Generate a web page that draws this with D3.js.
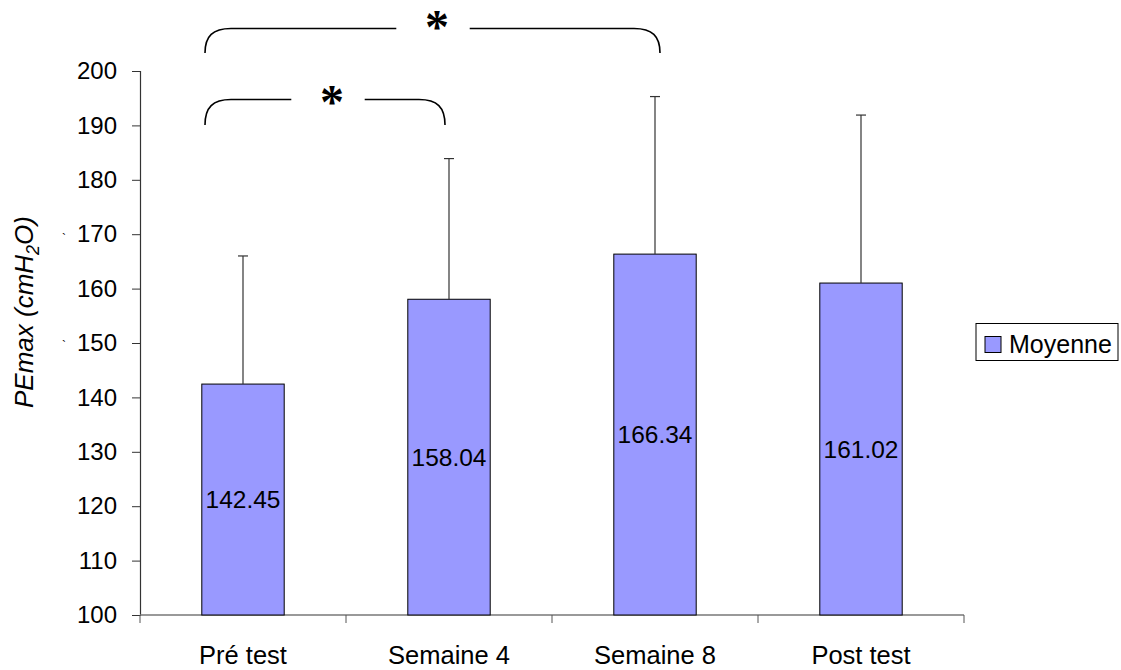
<!DOCTYPE html>
<html>
<head>
<meta charset="utf-8">
<script src="https://cdn.jsdelivr.net/npm/d3@7"></script>
<style>
  html, body { margin: 0; padding: 0; background: #fff; }
  svg { display: block; font-family: "Liberation Sans", Arial, sans-serif; }
</style>
</head>
<body>
<svg id="chart" width="1121" height="670"></svg>
<script>
// Mean PEmax per session and upper end of the error bar (mean + SD)
const categories = ["Pré test", "Semaine 4", "Semaine 8", "Post test"];
const means = [142.45, 158.04, 166.34, 161.02];
const upper = [166.0, 183.9, 195.3, 191.9];
const yTicks = [100, 110, 120, 130, 140, 150, 160, 170, 180, 190, 200];
// Significance brackets: [from category, to category]
const brackets = [
  ["Pré test", "Semaine 8"],
  ["Pré test", "Semaine 4"]
];

(function () {
const svg = d3.select("#chart");
const mLeft = 140, mRight = 964, mTop = 71, mBottom = 615;
const FS = 24;

const x = d3.scaleBand().domain(categories).range([mLeft, mRight]).paddingInner(0.6).paddingOuter(0.3);
const y = d3.scaleLinear().domain([100, 200]).range([mBottom, mTop]);
const cx = c => x(c) + x.bandwidth() / 2;

// y axis
const yAxis = svg.append("g").attr("transform", `translate(${mLeft},0)`)
  .call(d3.axisLeft(y).tickValues(yTicks).tickSize(8).tickPadding(15).tickFormat(d3.format("d")));
yAxis.select(".domain").attr("stroke", "#333").attr("stroke-width", 1.2);
yAxis.selectAll(".tick line").attr("stroke", "#333");
yAxis.selectAll(".tick text").attr("font-size", FS).attr("fill", "#000")
  .attr("font-family", "Liberation Sans, Arial, sans-serif");

// x axis: ticks between categories
const bounds = d3.range(categories.length + 1).map(i => mLeft + i * (mRight - mLeft) / categories.length);
svg.append("line").attr("x1", mLeft).attr("x2", mRight).attr("y1", mBottom).attr("y2", mBottom)
  .attr("stroke", "#777").attr("stroke-width", 1.5);
svg.selectAll(".xtick").data(bounds).enter().append("line")
  .attr("x1", d => d).attr("x2", d => d).attr("y1", mBottom).attr("y2", mBottom + 8)
  .attr("stroke", "#555").attr("stroke-width", 1);
svg.selectAll(".xlab").data(categories).enter().append("text")
  .attr("x", d => cx(d)).attr("y", 664)
  .attr("text-anchor", "middle").attr("font-size", 25.5).text(d => d);

// bars
const data = categories.map((c, i) => ({ c, m: means[i], u: upper[i] }));
svg.selectAll(".bar").data(data).enter().append("rect")
  .attr("x", d => x(d.c)).attr("width", x.bandwidth())
  .attr("y", d => y(d.m)).attr("height", d => y(100) - y(d.m))
  .attr("fill", "#9999FF").attr("stroke", "#000").attr("stroke-width", 1);

// error bars (upper side only)
const g = svg.append("g").attr("stroke", "#333").attr("stroke-width", 1.2);
data.forEach(d => {
  const px = cx(d.c);
  g.append("line").attr("x1", px).attr("x2", px).attr("y1", y(d.m)).attr("y2", y(d.u));
  g.append("line").attr("x1", px - 5).attr("x2", px + 5).attr("y1", y(d.u)).attr("y2", y(d.u));
});

// value labels in the middle of each bar
svg.selectAll(".val").data(data).enter().append("text")
  .attr("x", d => cx(d.c))
  .attr("y", d => (y(d.m) + y(100)) / 2 + 8.5)
  .attr("text-anchor", "middle").attr("font-size", 24.5).text(d => d.m.toFixed(2));

// significance brackets, stacked above the plot
const levels = [{ yT: 28.5, yB: 53, dR: 5, star: 4, sy: 21 }, { yT: 99.5, yB: 125, dR: -4, star: 4, sy: 96 }];
brackets.forEach(([a, b], lv) => {
  const L = levels[lv];
  const x0 = cx(a) - 38;
  const x1 = cx(b) + L.dR;
  const mid = (x0 + x1) / 2 + (lv === 0 ? 0.5 : 3);
  const gap = 36.7;
  const r = 26;
  const h = L.yB - L.yT;
  const p = d3.path();
  p.moveTo(x0, L.yB);
  p.bezierCurveTo(x0, L.yT + h * 0.3, x0 + r * 0.3, L.yT, x0 + r, L.yT);
  p.lineTo(mid - gap, L.yT);
  p.moveTo(mid + gap, L.yT);
  p.lineTo(x1 - r, L.yT);
  p.bezierCurveTo(x1 - r * 0.3, L.yT, x1, L.yT + h * 0.3, x1, L.yB);
  svg.append("path").attr("d", p.toString()).attr("fill", "none")
    .attr("stroke", "#000").attr("stroke-width", 1.6);
  svg.append("text").attr("x", mid + L.star).attr("y", L.sy + 22)
    .attr("text-anchor", "middle").attr("font-size", 48).attr("font-weight", "bold")
    .attr("font-family", "Liberation Serif, serif").text("*");
});

// y axis title
svg.append("text")
  .attr("transform", "translate(33,312) rotate(-90)")
  .attr("text-anchor", "middle").attr("font-size", 26).attr("font-style", "italic")
  .html('PEmax (cmH<tspan font-size="18" dy="6">2</tspan><tspan dy="-6">O)</tspan>');
svg.append("text").attr("x", 62).attr("y", 243).attr("font-size", 12).text("`");
svg.append("text").attr("x", 62).attr("y", 350).attr("font-size", 12).text("`");

// legend
const lg = svg.append("g");
lg.append("rect").attr("x", 976).attr("y", 323.5).attr("width", 142).attr("height", 37)
  .attr("fill", "#fff").attr("stroke", "#000").attr("stroke-width", 1);
lg.append("rect").attr("x", 985).attr("y", 336.5).attr("width", 16).attr("height", 16)
  .attr("fill", "#9999FF").attr("stroke", "#000").attr("stroke-width", 1);
lg.append("text").attr("x", 1009).attr("y", 353).attr("font-size", 25).text("Moyenne");
})();
</script>
</body>
</html>
